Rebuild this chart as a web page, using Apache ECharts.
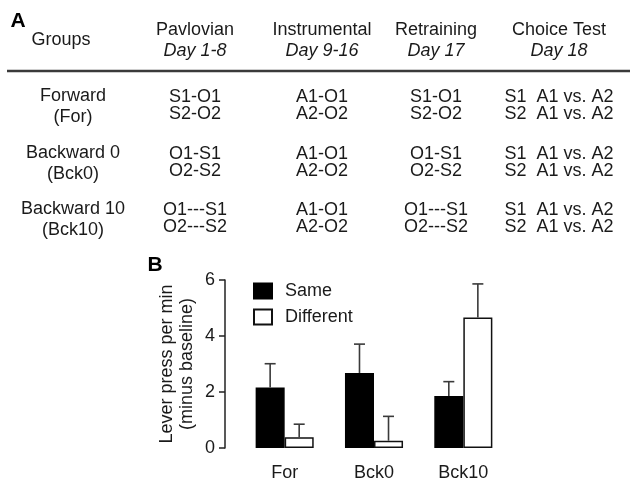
<!DOCTYPE html>
<html><head><meta charset="utf-8">
<script src="https://cdn.jsdelivr.net/npm/echarts@6/dist/echarts.min.js"></script>
<style>html,body{margin:0;padding:0;background:#fff}#c{width:630px;height:483px}</style>
</head><body><div id="c"></div>
<script>
// ---- Table (panel A) data ----
const groupNames = ['Forward', 'Backward 0', 'Backward 10'];
const groupAbbr = ['(For)', '(Bck0)', '(Bck10)'];
const phaseNames = ['Pavlovian', 'Instrumental', 'Retraining', 'Choice Test'];
const phaseDays = ['Day 1-8', 'Day 9-16', 'Day 17', 'Day 18'];
const pavlovian = [['S1-O1', 'S2-O2'], ['O1-S1', 'O2-S2'], ['O1---S1', 'O2---S2']];
const instrumental = [['A1-O1', 'A2-O2'], ['A1-O1', 'A2-O2'], ['A1-O1', 'A2-O2']];
const retraining = [['S1-O1', 'S2-O2'], ['O1-S1', 'O2-S2'], ['O1---S1', 'O2---S2']];
const choiceTest = [['S1  A1 vs. A2', 'S2  A1 vs. A2'], ['S1  A1 vs. A2', 'S2  A1 vs. A2'], ['S1  A1 vs. A2', 'S2  A1 vs. A2']];

// ---- Bar chart (panel B) data ----
const categories = ['For', 'Bck0', 'Bck10'];
const sameMean = [2.16, 2.68, 1.86];
const sameUpper = [3.01, 3.71, 2.37];
const diffMean = [0.38, 0.26, 4.66];
const diffUpper = [0.85, 1.13, 5.86];
const yMin = 0, yMax = 6, yInterval = 2;

const FONT = 'Liberation Sans, Arial, Helvetica, sans-serif';
const TXT = '#1a1a1a';

// layout of table
const colX = [195, 322, 436, 559];
const groupX = 73;
const rowY = [97, 154, 210];

const graphics = [];
function txt(x, y, s, opt) {
  graphics.push({
    type: 'text', x: x, y: y,
    style: Object.assign({ text: s, font: '18px ' + FONT, fill: TXT, textAlign: 'center', textVerticalAlign: 'middle' }, opt || {})
  });
}
txt(18, 21, 'A', { font: 'bold 21px ' + FONT, fill: '#000' });
txt(61, 40, 'Groups');
phaseNames.forEach((p, i) => { txt(colX[i], 30, p); txt(colX[i], 51, phaseDays[i], { font: 'italic 18px ' + FONT }); });
graphics.push({ type: 'line', shape: { x1: 7, y1: 71, x2: 630, y2: 71 }, style: { stroke: '#3a3a3a', lineWidth: 2.5 } });
const columns = [pavlovian, instrumental, retraining, choiceTest];
groupNames.forEach((g, r) => {
  txt(groupX, rowY[r] - 1, g);
  txt(groupX, rowY[r] + 20, groupAbbr[r]);
  columns.forEach((col, c) => {
    txt(colX[c], rowY[r], col[r][0]);
    txt(colX[c], rowY[r] + 17, col[r][1]);
  });
});
txt(155, 265, 'B', { font: 'bold 21px ' + FONT, fill: '#000' });

const CAT_GAP = 0.35;
function errRender(sign) {
  return function (params, api) {
    const i = api.value(0);
    const p0 = api.coord([i, api.value(1)]);
    const p1 = api.coord([i, api.value(2)]);
    const band = api.size([1, 0])[0];
    const bw = band * (1 - CAT_GAP) / 2;
    const cx = p0[0] + sign * bw / 2;
    const st = { stroke: '#3a3a3a', lineWidth: 1.6 };
    return {
      type: 'group', children: [
        { type: 'line', shape: { x1: cx, y1: p0[1], x2: cx, y2: p1[1] }, style: st },
        { type: 'line', shape: { x1: cx - 5.5, y1: p1[1], x2: cx + 5.5, y2: p1[1] }, style: st }
      ]
    };
  };
}

const chart = echarts.init(document.getElementById('c'), null, { renderer: 'canvas' });
chart.setOption({
  animation: false,
  backgroundColor: '#fff',
  textStyle: { fontFamily: FONT },
  grid: { left: 240, top: 280, width: 268, height: 168 },
  legend: {
    data: ['Same', 'Different'], orient: 'vertical', left: 253, top: 282,
    itemWidth: 18, itemHeight: 15, itemGap: 8, padding: 0, icon: 'rect',
    textStyle: { fontSize: 18, color: TXT, fontFamily: FONT, padding: [0, 0, 0, 8] }
  },
  xAxis: {
    type: 'category', data: categories,
    axisLine: { show: false }, axisTick: { show: false },
    axisLabel: { fontSize: 18, color: TXT, margin: 16, fontFamily: FONT }
  },
  yAxis: {
    type: 'value', min: yMin, max: yMax, interval: yInterval, offset: 15,
    name: 'Lever press per min\n(minus baseline)', nameLocation: 'middle', nameRotate: 90, nameGap: 28,
    nameTextStyle: { fontSize: 18, color: TXT, lineHeight: 20, fontFamily: FONT },
    axisLine: { show: true, lineStyle: { color: '#222', width: 1.5 } },
    axisTick: { show: true, length: 6, lineStyle: { color: '#222', width: 1.5 } },
    splitLine: { show: false },
    axisLabel: { fontSize: 18, color: TXT, margin: 10, fontFamily: FONT }
  },
  series: [
    { name: 'Same', type: 'bar', data: sameMean, barGap: '0%', barCategoryGap: '35%',
      itemStyle: { color: '#000', borderColor: '#000', borderWidth: 1.5 } },
    { name: 'Different', type: 'bar', data: diffMean, barGap: '0%', barCategoryGap: '35%',
      itemStyle: { color: '#fff', borderColor: '#111', borderWidth: 1.5 } },
    { name: 'errSame', type: 'custom', renderItem: errRender(-1), z: 5,
      data: categories.map((c, i) => [i, sameMean[i], sameUpper[i]]) },
    { name: 'errDiff', type: 'custom', renderItem: errRender(1), z: 5,
      data: categories.map((c, i) => [i, diffMean[i], diffUpper[i]]) }
  ],
  graphic: graphics
});
</script></body></html>
